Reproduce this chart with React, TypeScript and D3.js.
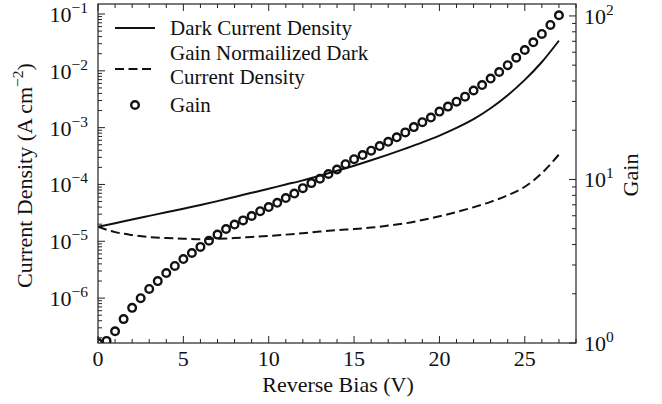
import React from 'react';
import * as d3 from 'd3';

// reverse bias for gain markers (V)
const gainBias = [
  0, 0.5, 1, 1.5, 2, 2.5, 3, 3.5, 4, 4.5, 5, 5.5, 6, 6.5, 7, 7.5, 8, 8.5, 9, 9.5,
  10, 10.5, 11, 11.5, 12, 12.5, 13, 13.5, 14, 14.5, 15, 15.5, 16, 16.5, 17, 17.5,
  18, 18.5, 19, 19.5, 20, 20.5, 21, 21.5, 22, 22.5, 23, 23.5, 24, 24.5, 25, 25.5,
  26, 26.5, 27,
];
const gainValues = [
  1.0, 1.03, 1.18, 1.4, 1.64, 1.88, 2.14, 2.39, 2.68, 2.96, 3.26, 3.55, 3.87, 4.22,
  4.6, 4.98, 5.3, 5.62, 5.98, 6.4, 6.78, 7.2, 7.7, 8.2, 8.85, 9.5, 10.1, 10.8, 11.5,
  12.4, 13.3, 14.1, 15.0, 16.0, 17.0, 18.1, 19.4, 20.9, 22.4, 23.9, 26.0, 27.9, 29.9,
  32.1, 35.0, 37.8, 41.4, 45.4, 50.0, 55.6, 61.9, 69.0, 77.6, 88.1, 101,
];

// reverse bias for the current density curves (V)
const currentBias = [
  0, 1, 2, 3, 4, 5, 6, 7, 8, 9, 10, 11, 12, 13, 14, 15, 16, 17, 18, 19, 20, 21, 22,
  23, 24, 25, 26, 27,
];
const darkCurrent = [
  1.8e-5, 2.08e-5, 2.42e-5, 2.8e-5, 3.24e-5, 3.75e-5, 4.35e-5, 5.09e-5, 6.03e-5,
  7.13e-5, 8.43e-5, 9.98e-5, 1.18e-4, 1.43e-4, 1.74e-4, 2.14e-4, 2.66e-4, 3.35e-4,
  4.27e-4, 5.5e-4, 7.24e-4, 9.89e-4, 1.41e-3, 2.19e-3, 3.72e-3, 6.92e-3, 1.43e-2,
  3.39e-2,
];
const normalizedCurrent = [
  1.8e-5, 1.45e-5, 1.29e-5, 1.19e-5, 1.14e-5, 1.11e-5, 1.09e-5, 1.11e-5, 1.14e-5,
  1.19e-5, 1.24e-5, 1.31e-5, 1.39e-5, 1.48e-5, 1.57e-5, 1.64e-5, 1.74e-5, 1.89e-5,
  2.07e-5, 2.37e-5, 2.75e-5, 3.27e-5, 3.98e-5, 4.95e-5, 6.46e-5, 9.12e-5, 1.58e-4,
  3.37e-4,
];

const xTickValues = [0, 5, 10, 15, 20, 25];
const leftDecades = [-6, -5, -4, -3, -2, -1];
const rightDecades = [0, 1, 2];

const W = 662;
const H = 404;
const plot = { left: 98, right: 576, top: 4, bottom: 343 };
const font = '"Liberation Serif", "Times New Roman", serif';
const ink = '#111';
const spine = '#222';

export default function App() {
  const x = d3.scaleLinear().domain([0, 28]).range([plot.left, plot.right]);
  const yLeft = d3.scaleLog().domain([Math.pow(10, -6.79), Math.pow(10, -0.824)]).range([plot.bottom, plot.top]);
  const yRight = d3.scaleLog().domain([1, Math.pow(10, 2.073)]).range([plot.bottom, plot.top]);

  const line = d3.line<[number, number]>()
    .x(d => x(d[0]))
    .y(d => yLeft(d[1]))
    .curve(d3.curveMonotoneX);

  const darkPath = line(currentBias.map((v, i) => [v, darkCurrent[i]])) || '';
  const normPath = line(currentBias.map((v, i) => [v, normalizedCurrent[i]])) || '';

  const xMinor = d3.range(0, 29, 1).filter(v => v % 5 !== 0);

  const [l0, l1] = yLeft.domain();
  const leftMinor: number[] = [];
  for (let d = -7; d <= -1; d++) {
    for (let m = 2; m <= 9; m++) {
      const v = m * Math.pow(10, d);
      if (v >= l0 && v <= l1) leftMinor.push(v);
    }
  }
  const [r0, r1] = yRight.domain();
  const rightMinor: number[] = [];
  for (let d = 0; d <= 2; d++) {
    for (let m = 2; m <= 9; m++) {
      const v = m * Math.pow(10, d);
      if (v >= r0 && v <= r1) rightMinor.push(v);
    }
  }

  const major = 7;
  const minor = 4;
  const fs = 22;
  const legendFs = 21;
  const sup = 15.5;

  return (
    <svg
      width={W}
      height={H}
      viewBox={`0 0 ${W} ${H}`}
      style={{ position: 'absolute', left: 0, top: 0, background: '#fff' }}
      fontFamily={font}
    >
      <defs>
        <clipPath id="plot-clip">
          <rect x={plot.left} y={plot.top} width={plot.right - plot.left} height={plot.bottom - plot.top} />
        </clipPath>
      </defs>

      {/* data */}
      <g clipPath="url(#plot-clip)">
        <path d={darkPath} fill="none" stroke={ink} strokeWidth={2} />
        <path d={normPath} fill="none" stroke={ink} strokeWidth={2} strokeDasharray="9,4.5" />
        {gainBias.map((v, i) => (
          <circle key={i} cx={x(v)} cy={yRight(gainValues[i])} r={3.8} fill="none" stroke={ink} strokeWidth={2.4} />
        ))}
      </g>

      {/* x ticks, bottom and top; y ticks on both sides */}
      <g stroke={spine} strokeWidth={1}>
        {xTickValues.map(v => (
          <g key={'xm' + v}>
            <line x1={x(v)} x2={x(v)} y1={plot.bottom} y2={plot.bottom - major} />
            <line x1={x(v)} x2={x(v)} y1={plot.top} y2={plot.top + major} />
          </g>
        ))}
        {xMinor.map(v => (
          <g key={'xn' + v}>
            <line x1={x(v)} x2={x(v)} y1={plot.bottom} y2={plot.bottom - minor} />
            <line x1={x(v)} x2={x(v)} y1={plot.top} y2={plot.top + minor} />
          </g>
        ))}
        {leftDecades.map(d => (
          <line key={'lm' + d} x1={plot.left} x2={plot.left + major} y1={yLeft(Math.pow(10, d))} y2={yLeft(Math.pow(10, d))} />
        ))}
        {leftMinor.map((v, i) => (
          <line key={'ln' + i} x1={plot.left} x2={plot.left + minor} y1={yLeft(v)} y2={yLeft(v)} />
        ))}
        {rightDecades.map(d => (
          <line key={'rm' + d} x1={plot.right} x2={plot.right - major} y1={yRight(Math.pow(10, d))} y2={yRight(Math.pow(10, d))} />
        ))}
        {rightMinor.map((v, i) => (
          <line key={'rn' + i} x1={plot.right} x2={plot.right - minor} y1={yRight(v)} y2={yRight(v)} />
        ))}
      </g>

      {/* frame */}
      <rect
        x={plot.left}
        y={plot.top}
        width={plot.right - plot.left}
        height={plot.bottom - plot.top}
        fill="none"
        stroke={spine}
        strokeWidth={1.2}
      />

      {/* tick labels */}
      <g fill={ink} fontSize={fs}>
        {xTickValues.map(v => (
          <text key={'xl' + v} x={x(v)} y={366} textAnchor="middle">{v}</text>
        ))}
        {leftDecades.map(d => (
          <text key={'ll' + d} x={88} y={yLeft(Math.pow(10, d)) + 8} textAnchor="end">
            10<tspan dy={-9} fontSize={sup}>{'\u2212' + -d}</tspan>
          </text>
        ))}
        {rightDecades.map(d => (
          <text key={'rl' + d} x={584} y={yRight(Math.pow(10, d)) + 8} textAnchor="start">
            10<tspan dy={-9} fontSize={sup}>{d}</tspan>
          </text>
        ))}
      </g>

      {/* axis titles */}
      <g fill={ink} fontSize={fs}>
        <text x={(plot.left + plot.right) / 2 + 1} y={392} textAnchor="middle">Reverse Bias (V)</text>
        <text transform={`translate(32,${(plot.top + plot.bottom) / 2 + 2}) rotate(-90)`} textAnchor="middle">
          Current Density (A cm<tspan dy={-9} fontSize={sup}>{'\u22122'}</tspan><tspan dy={9}>)</tspan>
        </text>
        <text transform={`translate(638,175) rotate(-90)`} textAnchor="middle">Gain</text>
      </g>

      {/* legend */}
      <g fill={ink} fontSize={legendFs}>
        <line x1={115} x2={155} y1={28} y2={28} stroke={ink} strokeWidth={2} />
        <text x={170} y={35}>Dark Current Density</text>
        <line x1={115} x2={155} y1={69} y2={69} stroke={ink} strokeWidth={2} strokeDasharray="9,4.5" />
        <text x={170} y={60}>Gain Normailized Dark</text>
        <text x={170} y={84}>Current Density</text>
        <circle cx={135} cy={105} r={3.8} fill="none" stroke={ink} strokeWidth={2.4} />
        <text x={170} y={112}>Gain</text>
      </g>
    </svg>
  );
}
